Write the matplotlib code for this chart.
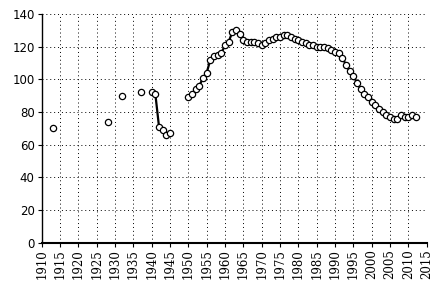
import numpy as np
import matplotlib
matplotlib.use("Agg")
import matplotlib.pyplot as plt

years = list(range(1910, 2013))
known = {
    1913: 70, 1928: 74, 1932: 90, 1937: 92,
    1940: 92, 1941: 91, 1942: 71, 1943: 69, 1944: 66, 1945: 67,
    1950: 89, 1951: 91, 1952: 94, 1953: 96, 1954: 101, 1955: 104,
    1956: 112, 1957: 114, 1958: 115, 1959: 116, 1960: 121, 1961: 123,
    1962: 129, 1963: 130, 1964: 128, 1965: 124, 1966: 123, 1967: 123,
    1968: 123, 1969: 122, 1970: 121, 1971: 122, 1972: 124, 1973: 125,
    1974: 126, 1975: 126, 1976: 127, 1977: 127, 1978: 126, 1979: 125,
    1980: 124, 1981: 123, 1982: 122, 1983: 121, 1984: 121, 1985: 120,
    1986: 120, 1987: 120, 1988: 119, 1989: 118, 1990: 117, 1991: 116,
    1992: 113, 1993: 109, 1994: 105, 1995: 102, 1996: 98, 1997: 94,
    1998: 91, 1999: 89, 2000: 86, 2001: 84, 2002: 82, 2003: 80,
    2004: 78, 2005: 77, 2006: 76, 2007: 76, 2008: 78, 2009: 77,
    2010: 77, 2011: 78, 2012: 77,
}
values = [known.get(y, np.nan) for y in years]

x_ticks = list(range(1910, 2016, 5))
y_ticks = list(range(0, 141, 20))

fig = plt.figure(figsize=(4.36, 2.92), dpi=100)
ax = fig.add_axes([0.0956, 0.169, 0.883, 0.783])

ax.plot(years, values, color="black", lw=1.6, marker="o", ms=4.5,
        markerfacecolor="white", markeredgecolor="black", markeredgewidth=0.9)

ax.set_xlim(1910, 2015)
ax.set_ylim(0, 140)
ax.set_xticks(x_ticks)
ax.set_yticks(y_ticks)
ax.set_xticklabels([str(t) for t in x_ticks], rotation=90,
                   fontfamily="DejaVu Serif", fontsize=8.5)
ax.set_yticklabels([str(t) for t in y_ticks], fontsize=8.5)
ax.grid(True, color="black", linestyle=(0, (1, 3)), linewidth=0.7)
for s in ["top", "right"]:
    ax.spines[s].set_visible(False)
ax.spines["left"].set_linewidth(1.0)
ax.spines["bottom"].set_linewidth(1.5)
ax.tick_params(direction="out", length=3, width=0.8, pad=2)

fig.savefig("out.png", dpi=100)
